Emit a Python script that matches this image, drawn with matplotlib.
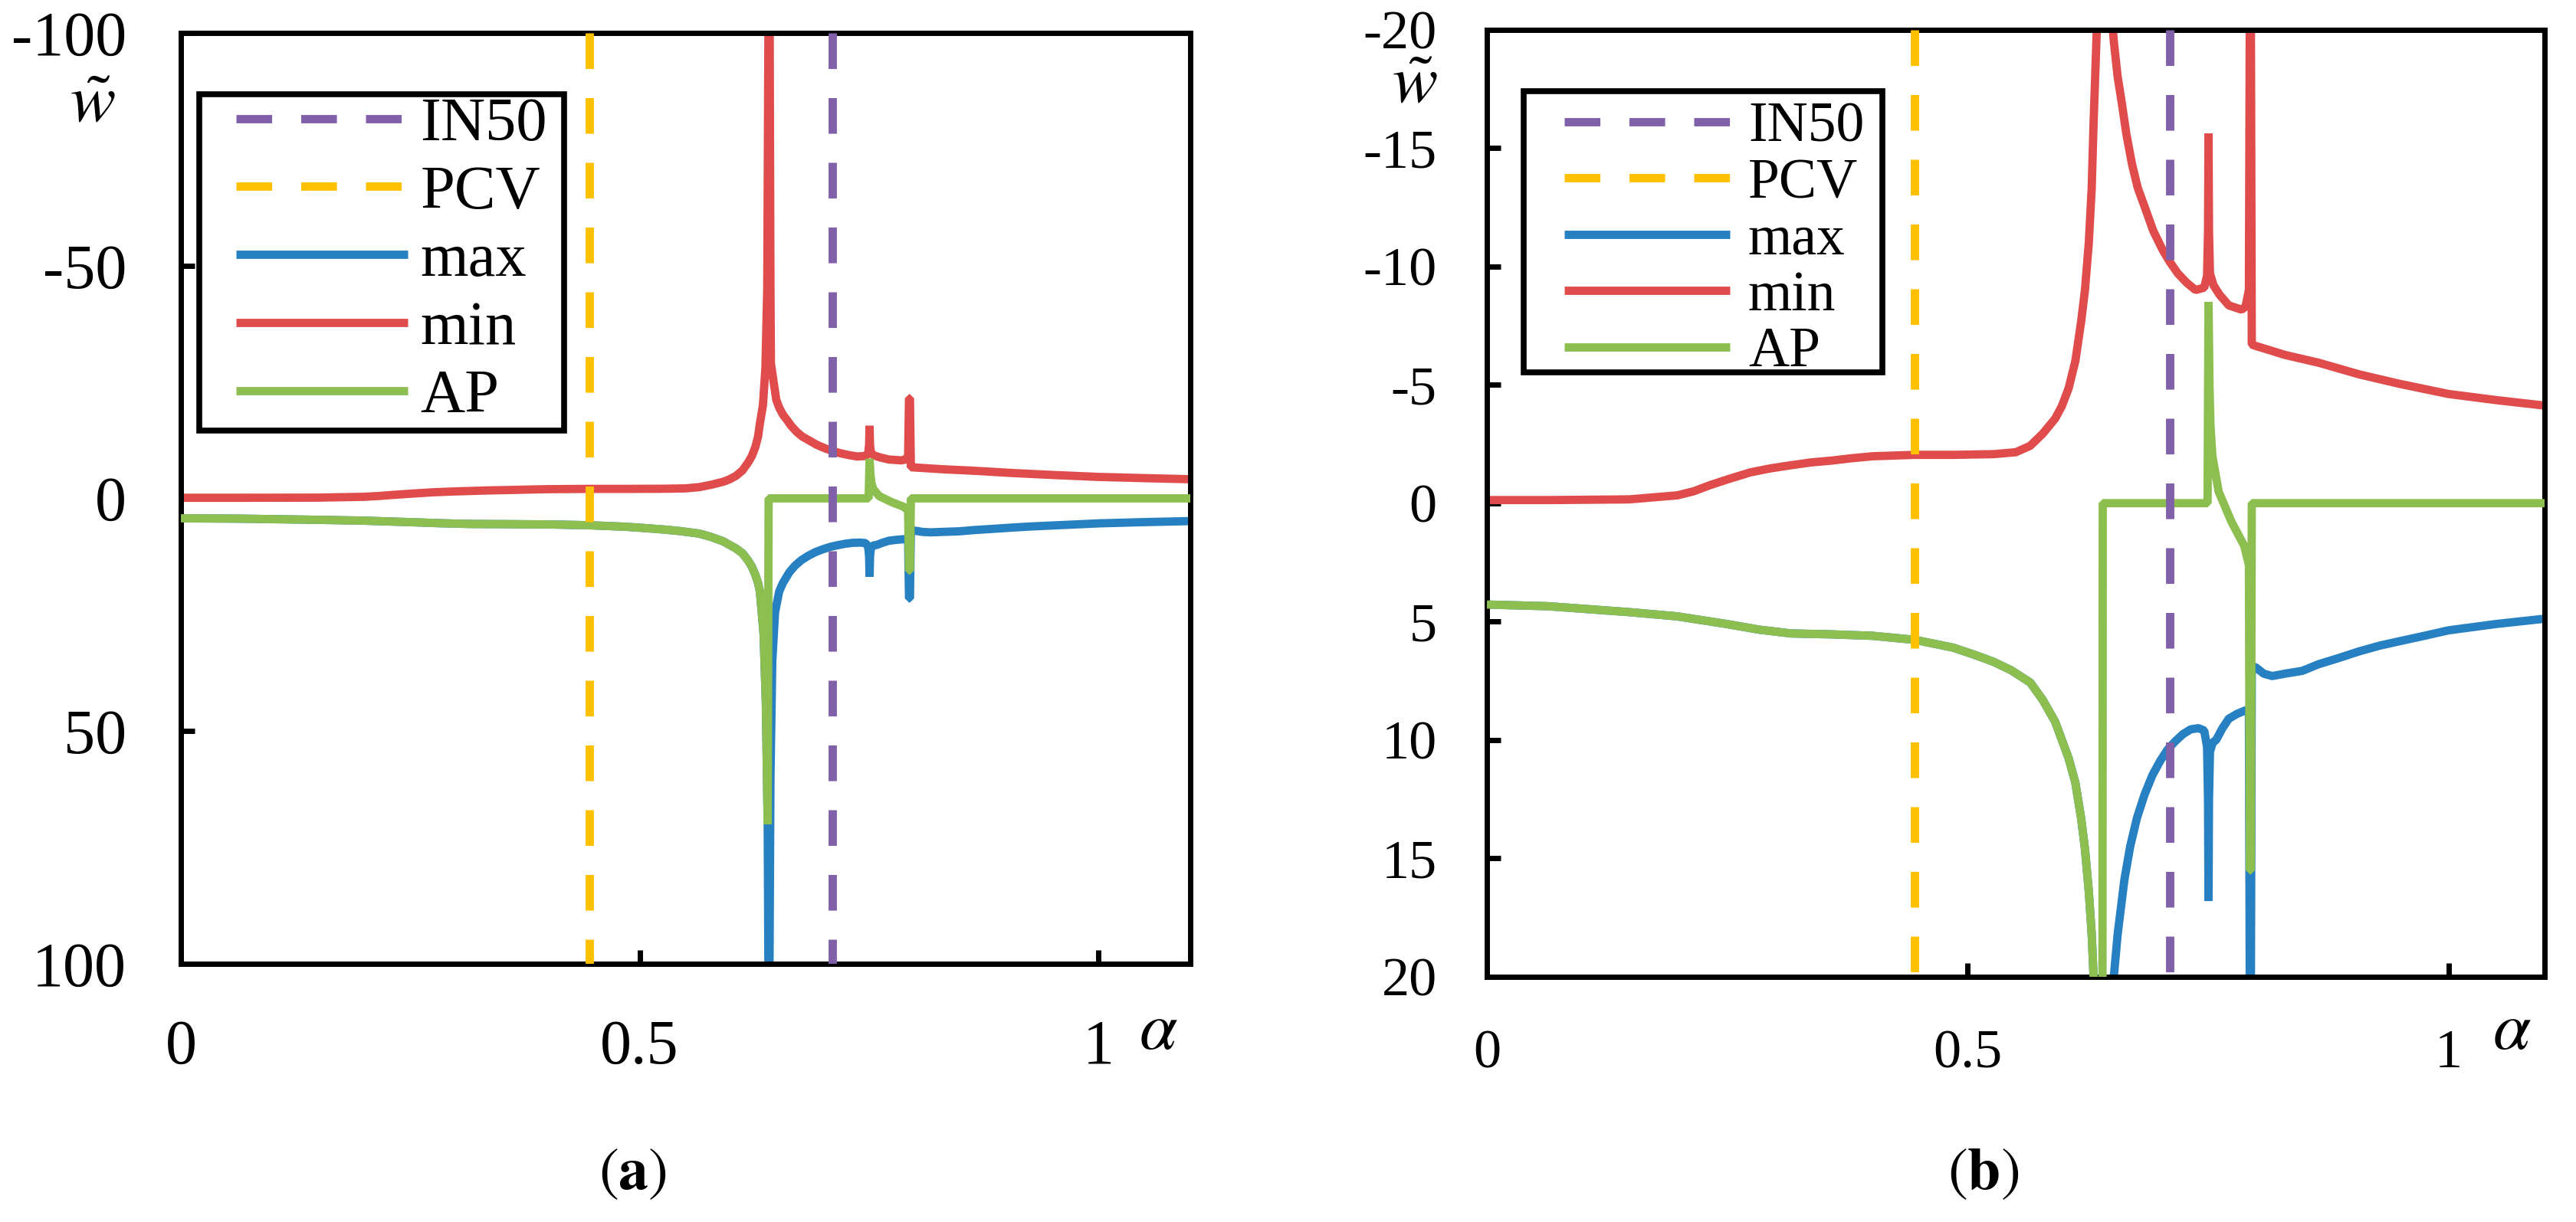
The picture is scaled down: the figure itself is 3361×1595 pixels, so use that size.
import matplotlib
matplotlib.use('Agg')
import matplotlib.pyplot as plt
from matplotlib.legend_handler import HandlerLine2D
from matplotlib.patches import Rectangle

plt.rcParams['font.family'] = ['Liberation Serif', 'DejaVu Serif']
plt.rcParams['mathtext.fontset'] = 'stix'
plt.rcParams['axes.unicode_minus'] = False

# ---------------- data ----------------
alpha_max = [0.000, 0.063, 0.148, 0.198, 0.249, 0.283, 0.316, 0.359, 0.401, 0.445,
             0.485, 0.507, 0.527, 0.545, 0.565, 0.578, 0.591, 0.605, 0.612, 0.618,
             0.622, 0.626, 0.629, 0.631, 0.635, 0.6375, 0.6395, 0.6405,
             0.6412, 0.6425, 0.6445, 0.6475, 0.652, 0.656, 0.663, 0.669, 0.676, 0.684,
             0.692, 0.700, 0.708, 0.716, 0.724, 0.732, 0.740, 0.746, 0.749, 0.7500,
             0.7505, 0.7510, 0.752, 0.755, 0.7584, 0.765, 0.7716, 0.780, 0.7876, 0.7925,
             0.7935, 0.7945, 0.7955, 0.7995, 0.808, 0.8167, 0.830, 0.848, 0.865, 0.885,
             0.907, 0.928, 0.949, 0.975, 1.000, 1.050, 1.100]
w_max = [4.28, 4.35, 4.6, 4.78, 5.1, 5.34, 5.5, 5.54, 5.6, 5.77,
         6.1, 6.4, 6.7, 7.05, 7.57, 8.3, 9.23, 10.77, 11.8, 13.3,
         14.6, 16.4, 18.2, 20.0, 29.0, 44.0, 70.0, 110.0,
         110.0, 60.0, 35.0, 24.5, 20.0, 18.2, 15.9, 14.5, 13.3, 12.3,
         11.5, 10.9, 10.4, 10.05, 9.75, 9.55, 9.5, 9.6, 10.3, 12.5,
         16.8, 12.5, 10.5, 10.1, 10.0, 9.5, 9.1, 8.9, 8.77, 8.7,
         21.5, 21.5, 6.9, 6.93, 7.2, 7.3, 7.2, 7.08, 6.8, 6.55,
         6.26, 6.02, 5.83, 5.6, 5.37, 5.1, 4.88]

alpha_min = [0.000, 0.063, 0.148, 0.198, 0.215, 0.232, 0.250, 0.274, 0.295, 0.316,
             0.337, 0.359, 0.380, 0.401, 0.445, 0.485, 0.527, 0.550, 0.565, 0.578,
             0.591, 0.598, 0.605, 0.612, 0.618, 0.622, 0.626, 0.629, 0.631, 0.6343,
             0.637, 0.639, 0.6405, 0.6415, 0.6425, 0.643, 0.6488, 0.652, 0.656, 0.6603,
             0.665, 0.671, 0.677, 0.6842, 0.693, 0.7027, 0.710, 0.7186, 0.728, 0.737,
             0.746, 0.749, 0.7500, 0.7505, 0.7510, 0.752, 0.7557, 0.762, 0.7716, 0.7849,
             0.789, 0.7925, 0.7935, 0.7945, 0.7955, 0.7995, 0.830, 0.865, 0.907, 0.949,
             1.000, 1.050, 1.100]
w_min = [-0.13, -0.13, -0.16, -0.33, -0.5, -0.76, -1.0, -1.3, -1.47, -1.6,
         -1.72, -1.8, -1.9, -1.98, -2.04, -2.04, -2.07, -2.15, -2.42, -2.93,
         -3.57, -4.1, -4.85, -6.0, -7.66, -9.0, -11.0, -13.3, -16.1, -20.0,
         -28.0, -45.0, -110.0, -110.0, -45.0, -29.0, -21.2, -19.5, -18.0, -16.9,
         -15.6, -14.3, -13.3, -12.5, -11.5, -10.7, -10.2, -9.7, -9.3, -9.0,
         -9.1, -9.6, -11.5, -15.6, -11.5, -9.7, -9.2, -8.8, -8.35, -8.17,
         -8.3, -9.0, -21.5, -21.5, -6.7, -6.64, -6.26, -5.93, -5.44, -5.04,
         -4.61, -4.35, -4.12]

alpha_ap = [0.000, 0.063, 0.148, 0.198, 0.249, 0.283, 0.316, 0.359, 0.401, 0.445,
            0.485, 0.507, 0.527, 0.545, 0.565, 0.578, 0.591, 0.605, 0.612, 0.618,
            0.622, 0.626, 0.629, 0.631, 0.635, 0.6375, 0.6395, 0.6405, 0.7495, 0.7505,
            0.7515, 0.7525, 0.7545, 0.761, 0.7743, 0.7876, 0.7925, 0.7935, 0.7945, 0.7955,
            1.100]
w_ap = [4.28, 4.35, 4.6, 4.78, 5.1, 5.34, 5.5, 5.54, 5.6, 5.77,
        6.1, 6.4, 6.7, 7.05, 7.57, 8.3, 9.23, 10.77, 11.8, 13.3,
        14.6, 16.4, 18.2, 20.0, 29.0, 44.0, 70.0, 0.0, 0.0, -8.5,
        -5.0, -3.3, -2.0, -0.49, 0.78, 1.8, 2.6, 15.5, 15.5, 0.0,
        0.0]

alpha_in50 = 0.71
alpha_pcv = 0.445

legend_labels = ['IN50', 'PCV', 'max', 'min', 'AP']
xticks = [0, 0.5, 1]
xtick_labels = ['0', '0.5', '1']
yticks_a = [-100, -50, 0, 50, 100]
ytick_labels_a = ['-100', '-50', '0', '50', '100']
yticks_b = [-20, -15, -10, -5, 0, 5, 10, 15, 20]
ytick_labels_b = ['-20', '-15', '-10', '-5', '0', '5', '10', '15', '20']
panel_labels = ['a', 'b']

# ---------------- style ----------------
C_MAX = '#2680C2'
C_MIN = '#E04C4C'
C_AP = '#8CBE50'
C_IN50 = '#8060A8'
C_PCV = '#FFC000'
LW = 7.8
DASH = (0, (4.3, 3.5))

W, H = 3361, 1595
fig = plt.figure(figsize=(W / 100, H / 100), dpi=100)


def px_rect(l, t, r, b):
    return [l / W, 1 - b / H, (r - l) / W, (b - t) / H]


class ShiftedLine(HandlerLine2D):
    def __init__(self, shift_em, **kw):
        super().__init__(**kw)
        self.shift_em = shift_em

    def create_artists(self, legend, orig_handle, xdescent, ydescent, width,
                       height, fontsize, trans):
        s = self.shift_em * fontsize
        return super().create_artists(legend, orig_handle, xdescent - s, ydescent,
                                      width - s, height, fontsize, trans)


def panel(box, yticks, ytl, fs_tick, ypad, xpad, fs_leg, legbox, shift_em,
          hlen, htp, lsp, bpad):
    l, t, r, b = box
    ax = fig.add_axes(px_rect(l, t, r, b))
    ymin, ymax = yticks[0], yticks[-1]
    l_max, = ax.plot(alpha_max, w_max, color=C_MAX, lw=LW, zorder=2,
                     solid_joinstyle='bevel', solid_capstyle='butt')
    l_min, = ax.plot(alpha_min, w_min, color=C_MIN, lw=LW, zorder=2,
                     solid_joinstyle='bevel', solid_capstyle='butt')
    l_ap, = ax.plot(alpha_ap, w_ap, color=C_AP, lw=LW, zorder=3,
                    solid_joinstyle='bevel', solid_capstyle='butt')
    l_in, = ax.plot([alpha_in50, alpha_in50], [ymin, ymax], color=C_IN50, lw=LW,
                    linestyle=DASH, dash_capstyle='butt', zorder=4)
    l_pcv, = ax.plot([alpha_pcv, alpha_pcv], [ymin, ymax], color=C_PCV, lw=LW,
                     linestyle=DASH, dash_capstyle='butt', zorder=4)
    ax.set_xlim(0, 1.1)
    ax.set_ylim(ymax, ymin)
    ax.set_xticks(xticks)
    ax.set_xticklabels(xtick_labels)
    ax.set_yticks(yticks)
    ax.set_yticklabels(ytl)
    for sp in ax.spines.values():
        sp.set_linewidth(5)
        sp.set_color('black')
    ax.tick_params(direction='in', length=13, width=5, top=False, right=False,
                   labelsize=fs_tick, colors='black')
    ax.tick_params(axis='y', pad=ypad)
    ax.tick_params(axis='x', pad=xpad)

    # legend (frame drawn as a separate outline of the reference box size)
    bl, bt, br, bb = legbox
    axw, axh = r - l, b - t
    fx0, fy1 = (bl - l) / axw, 1 - (bt - t) / axh
    fx1, fy0 = (br - l) / axw, 1 - (bb - t) / axh
    ax.add_patch(Rectangle((fx0, fy0), fx1 - fx0, fy1 - fy0, transform=ax.transAxes,
                           facecolor='white', edgecolor='black', lw=5.5,
                           clip_on=False, zorder=9))
    handles = [l_in, l_pcv, l_max, l_min, l_ap]
    hm = {h: ShiftedLine(shift_em) for h in handles}
    leg = ax.legend(handles, legend_labels, loc='upper left', bbox_to_anchor=(fx0, fy1),
                    bbox_transform=ax.transAxes, borderaxespad=0, fontsize=fs_leg,
                    frameon=False, handlelength=hlen, handletextpad=htp,
                    labelspacing=lsp, borderpad=bpad, handler_map=hm)
    leg.set_zorder(10)
    return ax


axa = panel((236, 43, 1553, 1258), yticks_a, ytick_labels_a, 59, 51, 52, 58,
            (260, 122.5, 736, 562), 0.546, 3.33, 0.2, 0.19, 0.05)
axb = panel((1940, 38.5, 3320, 1275), yticks_b, ytick_labels_b, 52, 47, 49, 53,
            (1988, 118.5, 2456, 486), 0.52, 3.45, 0.33, 0.08, 0.2)

# axis labels and captions
def ftext(x, y, s, **kw):
    fig.text(x / W, 1 - y / H, s, ha='center', va='center', **kw)

ftext(121, 137, r'$\tilde{w}$', fontsize=64)
ftext(1846, 112, r'$\tilde{w}$', fontsize=64)
ftext(1511, 1347, r'$\alpha$', fontsize=64)
ftext(3277, 1347, r'$\alpha$', fontsize=64)
ftext(825, 1533, r'$(\mathbf{%s})$' % panel_labels[0], fontsize=56)
ftext(2588, 1533, r'$(\mathbf{%s})$' % panel_labels[1], fontsize=56)

fig.savefig('out.png', dpi=100, facecolor='white')
